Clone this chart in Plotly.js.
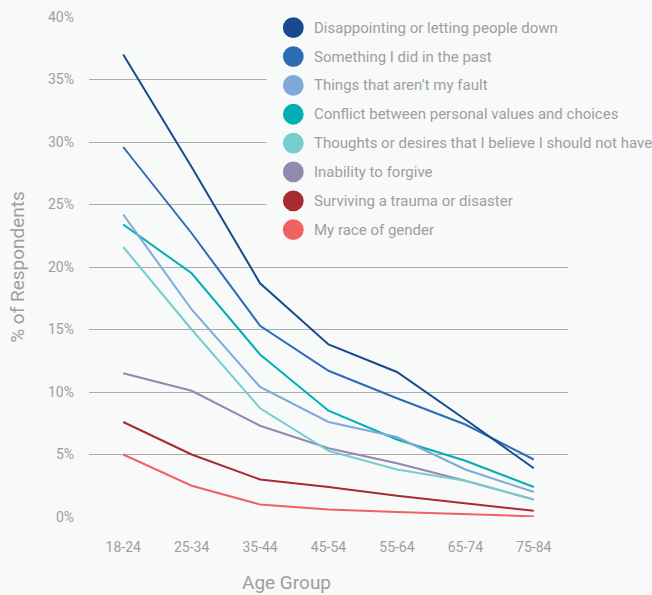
<!DOCTYPE html>
<html>
<head>
<meta charset="utf-8">
<script src="https://cdn.plot.ly/plotly-3.0.1.min.js"></script>
<style>
  html, body { margin: 0; padding: 0; background: #f8f9f9; }
  #chart { width: 652px; height: 595px; }
</style>
</head>
<body>
<div id="chart"></div>
<script>
// Age groups along the x axis
const ageGroups = ['18-24', '25-34', '35-44', '45-54', '55-64', '65-74', '75-84'];

// Share of respondents (%) naming each source of guilt, by age group
const disappointing = [37.0, 28.0, 18.7, 13.8, 11.6, 7.8, 3.9];
const pastAction    = [29.6, 22.7, 15.3, 11.7, 9.5, 7.4, 4.6];
const notMyFault    = [24.2, 16.6, 10.4, 7.6, 6.4, 3.8, 2.0];
const valuesConflict = [23.4, 19.5, 13.0, 8.5, 6.2, 4.5, 2.4];
const unwantedThoughts = [21.6, 15.0, 8.7, 5.3, 3.8, 2.9, 1.4];
const unforgiving   = [11.5, 10.1, 7.3, 5.5, 4.3, 2.9, 1.4];
const trauma        = [7.6, 5.0, 3.0, 2.4, 1.7, 1.1, 0.5];
const raceGender    = [5.0, 2.5, 1.0, 0.6, 0.4, 0.2, 0.05];

const seriesNames = [
  'Disappointing or letting people down',
  'Something I did in the past',
  'Things that aren\u2019t my fault',
  'Conflict between personal values and choices',
  'Thoughts or desires that I believe I should not have',
  'Inability to forgive',
  'Surviving a trauma or disaster',
  'My race of gender'
];
const seriesValues = [disappointing, pastAction, notMyFault, valuesConflict,
                      unwantedThoughts, unforgiving, trauma, raceGender];
const seriesColors = ['#174a8e', '#2e6db4', '#7eaad9', '#00aeb3',
                      '#75cdcd', '#9289b0', '#a82a32', '#f06262'];

const textColor = '#9e9e9e';
const bg = '#f8f9f9';

// Lines drawn bottom-up so the top series sit above the lower ones
const traces = seriesValues.map((vals, i) => ({
  type: 'scatter',
  mode: 'lines',
  name: seriesNames[i],
  x: ageGroups,
  y: vals,
  line: { color: seriesColors[i], width: 2 },
  showlegend: false,
  hoverinfo: 'x+y+name'
})).reverse();

// Plot-area geometry in pixels, used to place the custom key in paper units
const W = 652, H = 595;
const M = { l: 89, r: 84, t: 17, b: 78 };
const pw = W - M.l - M.r, ph = H - M.t - M.b;
const px = v => (v - M.l) / pw;
const py = v => (H - M.b - v) / ph;

const shapes = [];
const annotations = [];

// Key panel: a background block that hides the gridlines behind it
shapes.push({
  type: 'rect', xref: 'paper', yref: 'paper', layer: 'above',
  x0: px(266.5), x1: px(652), y0: py(254), y1: py(0),
  fillcolor: bg, line: { width: 0 }
});

const keyTop = 27.7, keyStep = 28.85, dotX = 293.3, dotR = 10.4;
seriesNames.forEach((name, i) => {
  const cy = keyTop + i * keyStep;
  shapes.push({
    type: 'circle', xref: 'paper', yref: 'paper', layer: 'above',
    x0: px(dotX - dotR), x1: px(dotX + dotR),
    y0: py(cy + dotR), y1: py(cy - dotR),
    fillcolor: seriesColors[i], line: { width: 0 }
  });
  annotations.push({
    xref: 'paper', yref: 'paper', x: px(311.5), y: py(cy),
    xanchor: 'left', yanchor: 'middle', showarrow: false,
    text: name, font: { family: 'Roboto', size: 15, color: textColor }
  });
});

// X axis title
annotations.push({
  xref: 'paper', yref: 'paper', x: px(286), y: py(582),
  xanchor: 'center', yanchor: 'middle', showarrow: false,
  text: 'Age Group', font: { family: 'Roboto', size: 19, color: textColor }
});

const layout = {
  width: W, height: H,
  margin: M,
  paper_bgcolor: bg,
  plot_bgcolor: bg,
  font: { family: 'Roboto', size: 14, color: textColor },
  showlegend: false,
  xaxis: {
    type: 'category',
    range: [-0.5, 6.5],
    showgrid: false,
    zeroline: false,
    showline: false,
    ticks: '',
    ticklabelstandoff: 20,
    tickfont: { family: 'Roboto', size: 14, color: textColor }
  },
  yaxis: {
    range: [0, 40],
    dtick: 5,
    ticksuffix: '%',
    showgrid: true,
    gridcolor: '#ababab',
    gridwidth: 1,
    zeroline: false,
    showline: false,
    ticks: '',
    ticklabelstandoff: 14,
    tickfont: { family: 'Roboto', size: 14, color: textColor },
    title: { text: '% of Respondents', standoff: 18,
             font: { family: 'Roboto', size: 19, color: textColor } }
  },
  shapes: shapes,
  annotations: annotations
};

Plotly.newPlot('chart', traces, layout, { displayModeBar: false, staticPlot: true });
</script>
</body>
</html>
